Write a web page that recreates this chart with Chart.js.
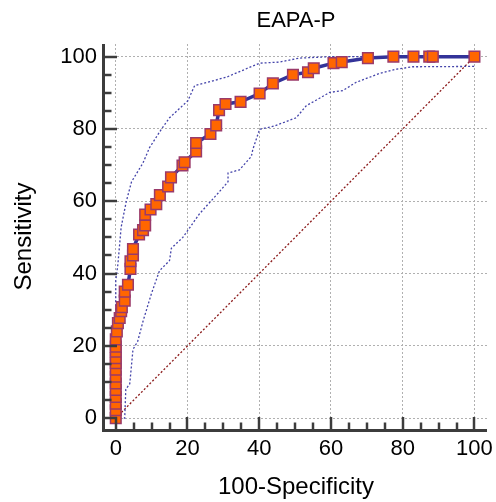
<!DOCTYPE html>
<html>
<head>
<meta charset="utf-8">
<script src="https://cdn.jsdelivr.net/npm/chart.js@4.4.1/dist/chart.umd.min.js"></script>
<style>
  html, body { margin: 0; padding: 0; background: #fff; }
  #wrap { width: 496px; height: 502px; }
</style>
</head>
<body>
<div id="wrap"><canvas id="roc"></canvas></div>
<script>
// --- datos ---
const rocX = [0, 0, 0, 0, 0, 0, 0, 0, 0, 0, 0, 0, 0, 0.3, 0.6, 1.1, 1.5, 1.7, 2.5, 2.5, 3.4, 4.1, 4.1, 4.8, 4.8, 6.5, 7.6, 8.2, 8.2, 9.7, 11.3, 12.3, 14.6, 15.4, 18.6, 19.2, 22.4, 22.4, 26.4, 28.0, 28.8, 30.6, 34.8, 40.1, 43.8, 49.4, 53.6, 55.2, 60.7, 63.0, 70.3, 77.4, 83.0, 87.4, 88.4, 100];
const rocY = [0, 2.2, 4.0, 5.9, 7.8, 9.6, 11.5, 13.4, 15.2, 16.6, 18.4, 19.8, 21.8, 24.0, 26.3, 27.7, 29.6, 30.7, 32.5, 35.0, 36.9, 41.3, 43.4, 45.0, 46.8, 50.8, 52.0, 53.3, 56.3, 57.7, 59.2, 61.7, 64.1, 66.6, 69.9, 70.8, 73.8, 76.1, 78.6, 81.0, 85.2, 86.9, 87.5, 89.8, 92.6, 95.0, 95.7, 96.8, 98.2, 98.5, 99.6, 100, 100, 100, 100, 100];

const upperX = [0, 0, 0.6, 1.5, 2.9, 4.4, 7.6, 9.4, 12.7, 15.0, 20.1, 22.0, 30.8, 40.1, 45.6, 51.2, 60, 100];
const upperY = [0, 38, 42.6, 52.8, 59.8, 65.4, 70.6, 74.8, 79.9, 83.1, 87.8, 92.0, 94.3, 98.2, 98.5, 99.6, 100, 100];

const lowerX = [0, 2.5, 2.8, 3.9, 4.8, 6.1, 7.6, 9.9, 11.2, 12.2, 15.0, 15.5, 18.7, 23.4, 28.5, 31.3, 31.3, 34.5, 37.8, 38.2, 40.1, 44.2, 50.3, 53.1, 59.6, 63.3, 67.0, 73.4, 78.1, 82.8, 100];
const lowerY = [0, 0, 8.0, 9.5, 19.0, 21.2, 26.8, 34.3, 38.0, 40.8, 43.6, 47.0, 50.0, 56.6, 62.2, 65.4, 67.8, 68.7, 72.4, 74.3, 79.9, 80.8, 83.1, 86.4, 90.1, 90.6, 92.9, 95.3, 96.5, 97.2, 97.3];

const diagX = [0, 100];
const diagY = [0, 100];

const xTicks = [0, 20, 40, 60, 80, 100];
const yTicks = [0, 20, 40, 60, 80, 100];
const minorStep = 5;

const toPoints = (xs, ys) => xs.map((x, i) => ({ x, y: ys[i] }));

const AXIS_COLOR = '#3c3c3c';
const FONT = 'Arial, "Liberation Sans", sans-serif';

// ejes y marcas de escala hacia dentro (mayores y menores)
const innerTicks = {
  id: 'innerTicks',
  afterDraw(chart) {
    const { ctx, chartArea, scales } = chart;
    const { left, right, top, bottom } = chartArea;
    ctx.save();
    ctx.setLineDash([]);
    ctx.strokeStyle = AXIS_COLOR;
    ctx.lineCap = 'butt';
    // lineas de eje
    ctx.lineWidth = 3;
    ctx.beginPath();
    ctx.moveTo(left - 1.5, top);
    ctx.lineTo(left - 1.5, bottom + 3);
    ctx.moveTo(left - 3, bottom + 1.5);
    ctx.lineTo(right, bottom + 1.5);
    ctx.stroke();
    // marcas
    ctx.lineWidth = 2.5;
    for (let v = 0; v <= 100; v += minorStep) {
      const len = v % 20 === 0 ? 12 : 6.5;
      const px = Math.round(scales.x.getPixelForValue(v));
      ctx.beginPath();
      ctx.moveTo(px, bottom);
      ctx.lineTo(px, bottom - len);
      ctx.stroke();
      const py = Math.round(scales.y.getPixelForValue(v));
      ctx.beginPath();
      ctx.moveTo(left, py);
      ctx.lineTo(left + len, py);
      ctx.stroke();
    }
    ctx.restore();
  }
};

const axisCommon = (ticksArr, title) => ({
  type: 'linear',
  min: -3,
  max: 103.5,
  afterBuildTicks: (s) => { s.ticks = ticksArr.map(v => ({ value: v })); },
  grid: { color: '#b0b0b0', lineWidth: 1, drawTicks: false },
  border: { display: false, dash: [2, 2] },
  ticks: { color: '#000', font: { family: FONT, size: 22 }, padding: 8 },
  title: { display: true, text: title, color: '#000', font: { family: FONT, size: 24 } }
});

const xAxis = axisCommon(xTicks, '100-Specificity');
xAxis.afterFit = (s) => { s.height = 73; s.paddingLeft = 0; s.paddingRight = 0; };
xAxis.ticks.padding = 7;
xAxis.title.padding = { top: 0, bottom: 0 };

const yAxis = axisCommon(yTicks, 'Sensitivity');
yAxis.afterFit = (s) => { s.width = 97; s.paddingTop = 0; s.paddingBottom = 0; };
yAxis.title.padding = { top: 2, bottom: 0 };

new Chart(document.getElementById('roc'), {
  type: 'scatter',
  data: {
    datasets: [
      {
        label: 'ROC',
        data: toPoints(rocX, rocY),
        showLine: true,
        borderColor: '#333399',
        borderWidth: 3.5,
        pointStyle: 'rect',
        pointRadius: 7.5,
        pointBackgroundColor: '#ff6600',
        pointBorderColor: '#9a3a6a',
        pointBorderWidth: 1.5,
        order: 0
      },
      {
        label: 'Upper',
        data: toPoints(upperX, upperY),
        showLine: true,
        borderColor: '#4444aa',
        borderWidth: 1.3,
        borderDash: [2, 2],
        pointRadius: 0,
        order: 1
      },
      {
        label: 'Lower',
        data: toPoints(lowerX, lowerY),
        showLine: true,
        borderColor: '#4444aa',
        borderWidth: 1.3,
        borderDash: [2, 2],
        pointRadius: 0,
        order: 1
      },
      {
        label: 'Diagonal',
        data: toPoints(diagX, diagY),
        showLine: true,
        borderColor: '#8b1a1a',
        borderWidth: 1.3,
        borderDash: [2, 2],
        pointRadius: 0,
        order: 2
      }
    ]
  },
  options: {
    responsive: true,
    maintainAspectRatio: false,
    animation: false,
    layout: { padding: { left: 8, right: 8, top: 0, bottom: 0 } },
    plugins: {
      legend: { display: false },
      tooltip: { enabled: false },
      title: {
        display: true,
        text: 'EAPA-P',
        fullSize: false,
        color: '#000',
        font: { family: FONT, size: 22, weight: 'normal' },
        padding: { top: 8, bottom: 9.6 }
      }
    },
    scales: { x: xAxis, y: yAxis }
  },
  plugins: [innerTicks]
});
</script>
</body>
</html>
